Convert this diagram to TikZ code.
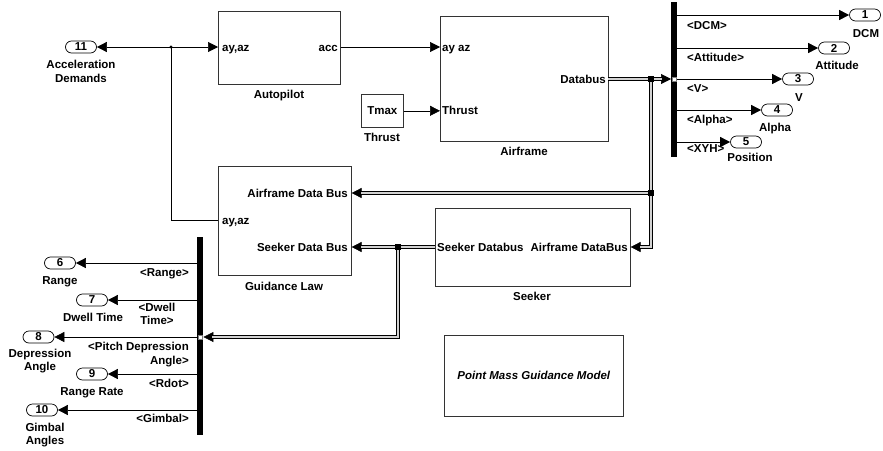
\documentclass[tikz,border=0pt]{standalone}
\usepackage{fontspec}
\setmainfont{Liberation Sans}
\usetikzlibrary{arrows.meta}
\begin{document}
\begin{tikzpicture}[x=1pt,y=-1pt,
  every node/.style={font=\fontsize{11.5}{13}\selectfont\bfseries, inner sep=0pt},
  blk/.style={draw=black!80, line width=0.6pt, anchor=north west},
  oport/.style={draw, line width=0.7pt, rounded corners=6pt, minimum width=31pt, minimum height=12pt},
  sig/.style={line width=0.6pt, -{Triangle[length=10pt,width=10pt]}},
  sigl/.style={line width=0.6pt},
  busline/.style={double=gray!35, double distance=2pt, line width=0.8pt},
  jsq/.style={fill=black, minimum size=6pt},
  barst/.style={fill=black, anchor=north west},
  portsq/.style={draw=gray, fill=white, line width=0.3pt, minimum size=3.5pt},
]
\useasboundingbox (0,0) rectangle (883,450);

% blocks
\node[blk, minimum width=122pt, minimum height=73pt] (ap) at (218,11) {};
\node[blk, minimum width=168pt, minimum height=125pt] (af) at (440,16) {};
\node[blk, minimum width=42pt, minimum height=33pt] (tmax) at (361,94) {};
\node at (tmax.center) {Tmax};
\node[blk, minimum width=133pt, minimum height=109pt] (gl) at (218,166) {};
\node[blk, minimum width=195pt, minimum height=78pt] (sk) at (435,208) {};
\node[blk, minimum width=179pt, minimum height=81pt] (pm) at (444,335) {};
\node[font=\fontsize{11.5}{13}\selectfont\bfseries\itshape] at (pm.center) {Point Mass Guidance Model};
\node[barst, minimum width=6pt, minimum height=155pt] (bar1) at (671,2) {};
\node[barst, minimum width=6pt, minimum height=198pt] (bar2) at (197,237) {};

% outports
\node[oport] (o1) at (865,15) {1};
\node[oport] (o2) at (834,48) {2};
\node[oport] (o3) at (798,79) {3};
\node[oport] (o4) at (777,110) {4};
\node[oport] (o5) at (746,142) {5};
\node[oport] (o6) at (60,263) {6};
\node[oport] (o7) at (92,300) {7};
\node[oport] (o8) at (38.5,337) {8};
\node[oport] (o9) at (92,374) {9};
\node[oport] (o10) at (42,410) {10};
\node[oport] (o11) at (81,47) {11};

% coordinates
\coordinate (br) at (171,47);
\coordinate (glay) at (218,220);
\coordinate (afdb) at (608,79);
\coordinate (j1) at (651,79);
\coordinate (j2) at (651,193);
\coordinate (c1) at (651,247);
\coordinate (j3) at (398,247);
\coordinate (c2) at (398,337);

% signal lines
\draw[sig] (br) -- (o11.east);
\draw[sig] (br) -- (ap.west |- br);
\draw[sigl] (br) |- (glay);
\fill (br) circle (1.6pt);
\draw[sig] (ap.east |- br) -- (af.west |- br);
\draw[sig] (tmax.east) -- (af.west |- tmax.east);

\foreach \o in {o1,o2,o3,o4,o5}{\draw[sig] (bar1.east |- \o) -- (\o.west);}
\foreach \o in {o6,o7,o8,o9,o10}{\draw[sig] (bar2.west |- \o) -- (\o.east);}

% buses
\draw[sig] (afdb) -- (bar1.west |- afdb);
\draw[busline, shorten >=9pt] (afdb) -- (bar1.west |- afdb);
\draw[sig] (j1) -- (c1) -- (sk.east |- c1);
\draw[busline, shorten >=9pt] (j1) -- (c1) -- (sk.east |- c1);
\draw[sig] (j2) -- (gl.east |- j2);
\draw[busline, shorten >=9pt] (j2) -- (gl.east |- j2);
\draw[sig] (sk.west |- c1) -- (gl.east |- c1);
\draw[busline, shorten >=9pt] (sk.west |- c1) -- (gl.east |- c1);
\draw[sig] (j3) -- (c2) -- (bar2.east |- c2);
\draw[busline, shorten >=9pt] (j3) -- (c2) -- (bar2.east |- c2);
\node[jsq] at (j1) {};
\node[jsq] at (j2) {};
\node[jsq] at (j3) {};
\node[portsq] at (674,79) {};
\node[portsq] at (200,337) {};

% block texts
\node[anchor=base west] at (222,51) {ay,az};
\node[anchor=base east] at (338,51) {acc};
\node[anchor=base] at (279,98) {Autopilot};
\node[anchor=base west] at (442,51) {ay az};
\node[anchor=base west] at (442,114) {Thrust};
\node[anchor=base east] at (606,83) {Databus};
\node[anchor=base] at (524,155) {Airframe};
\node[anchor=base] at (382,141) {Thrust};
\node[anchor=base east] at (348,197) {Airframe Data Bus};
\node[anchor=base west] at (222,224) {ay,az};
\node[anchor=base east] at (348,251) {Seeker Data Bus};
\node[anchor=base] at (284,290) {Guidance Law};
\node[anchor=base west] at (437,251) {Seeker Databus};
\node[anchor=base east] at (628,251) {Airframe DataBus};
\node[anchor=base] at (532,300) {Seeker};

% bus selector labels right
\node[anchor=base west] at (687,29) {<DCM>};
\node[anchor=base west] at (687,61) {<Attitude>};
\node[anchor=base west] at (687,92) {<V>};
\node[anchor=base west] at (687,123) {<Alpha>};
\node[anchor=base west] at (687,152) {<XYH>};
\node[anchor=base] at (866,37) {DCM};
\node[anchor=base] at (837,69) {Attitude};
\node[anchor=base] at (799,101) {V};
\node[anchor=base] at (775,131) {Alpha};
\node[anchor=base] at (750,161) {Position};

% left
\node[anchor=base] at (81,68) {Acceleration};
\node[anchor=base] at (81,82) {Demands};
\node[anchor=base east] at (189,276) {<Range>};
\node[anchor=base] at (157,311) {<Dwell};
\node[anchor=base] at (157,324) {Time>};
\node[anchor=base east] at (189,350) {<Pitch Depression};
\node[anchor=base east] at (189,364) {Angle>};
\node[anchor=base east] at (189,387) {<Rdot>};
\node[anchor=base east] at (189,422) {<Gimbal>};
\node[anchor=base] at (60,284) {Range};
\node[anchor=base] at (93,321) {Dwell Time};
\node[anchor=base] at (40,357) {Depression};
\node[anchor=base] at (40,370) {Angle};
\node[anchor=base] at (92,395) {Range Rate};
\node[anchor=base] at (45,431) {Gimbal};
\node[anchor=base] at (45,444) {Angles};
\end{tikzpicture}
\end{document}
